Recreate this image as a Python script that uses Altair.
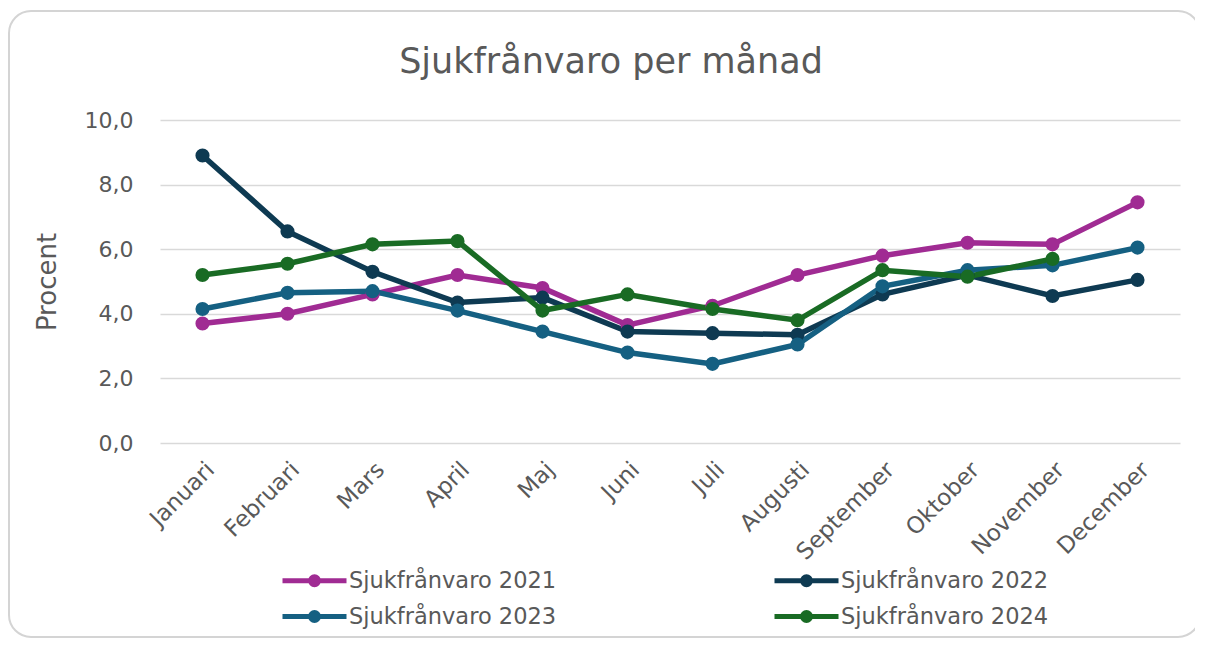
import altair as alt
import pandas as pd

months = ["Januari", "Februari", "Mars", "April", "Maj", "Juni", "Juli",
          "Augusti", "September", "Oktober", "November", "December"]
s2021 = [3.7, 4.0, 4.6, 5.2, 4.8, 3.65, 4.25, 5.2, 5.8, 6.2, 6.15, 7.45]
s2022 = [8.9, 6.55, 5.3, 4.35, 4.5, 3.45, 3.4, 3.35, 4.6, 5.2, 4.55, 5.05]
s2023 = [4.15, 4.65, 4.7, 4.1, 3.45, 2.8, 2.45, 3.05, 4.85, 5.35, 5.5, 6.05]
s2024 = [5.2, 5.55, 6.15, 6.25, 4.1, 4.6, 4.15, 3.8, 5.35, 5.15, 5.7, None]

series_names = ["Sjukfrånvaro 2021", "Sjukfrånvaro 2022",
                "Sjukfrånvaro 2023", "Sjukfrånvaro 2024"]
series_values = [s2021, s2022, s2023, s2024]
colors = ["#A02B93", "#0E3A52", "#156082", "#196B24"]
y_ticks = [0, 2, 4, 6, 8, 10]

rows = []
for name, vals in zip(series_names, series_values):
    for m, v in zip(months, vals):
        if v is not None:
            rows.append({"Månad": m, "Serie": name, "Procent": v})
df = pd.DataFrame(rows)

FONT = "DejaVu Sans"
TXT = "#595959"

legend_path = ("M-3.2,0 L3.2,0 M0.4,0 A0.4,0.4 0 1,1 -0.4,0 "
               "A0.4,0.4 0 1,1 0.4,0 Z")

x_enc = alt.X("Månad:N", sort=months,
              scale=alt.Scale(type="point", padding=0.5),
              axis=alt.Axis(title=None, labelAngle=-45, labelFontSize=23,
                            labelColor=TXT, labelFont=FONT, labelPadding=15,
                            ticks=False, domain=False, grid=False))
y_enc = alt.Y("Procent:Q",
              scale=alt.Scale(domain=[0, 10], nice=False),
              axis=alt.Axis(title="Procent", values=y_ticks,
                            labelExpr="replace(format(datum.value, '.1f'), '.', ',')",
                            labelFontSize=22, labelColor=TXT, labelFont=FONT,
                            labelPadding=27, titleFontSize=26, titleColor=TXT,
                            titleFont=FONT, titleFontWeight="normal",
                            titlePadding=24, ticks=False, domain=False,
                            grid=True, gridColor="#D9D9D9", gridWidth=1.5))
color_enc = alt.Color("Serie:N",
                      scale=alt.Scale(domain=series_names, range=colors),
                      legend=alt.Legend(title=None, orient="none",
                                        direction="horizontal",
                                        legendX=142, legendY=448,
                                        columns=2, columnPadding=207,
                                        rowPadding=7,
                                        symbolType=legend_path,
                                        symbolSize=400,
                                        symbolStrokeWidth=5,
                                        labelFontSize=22.5, labelColor=TXT,
                                        labelFont=FONT, labelOffset=22,
                                        labelLimit=400))

border = alt.Chart(pd.DataFrame({"a": [0]})).mark_rect(
    filled=False, stroke="#D4D4D4", strokeWidth=2, cornerRadius=22
).encode(x=alt.value(-151), x2=alt.value(1040),
         y=alt.value(-109), y2=alt.value(517))

lines = alt.Chart(df).mark_line(
    strokeWidth=5.5,
    point=alt.OverlayMarkDef(filled=True, size=200, opacity=1)
).encode(x=x_enc, y=y_enc, color=color_enc)

chart = alt.layer(border, lines).properties(
    width=1020, height=323,
    padding={"left": 152, "top": 112, "right": 15, "bottom": 195},
    autosize=alt.AutoSizeParams(type="none"),
    title=alt.TitleParams("Sjukfrånvaro per månad", fontSize=35,
                          font=FONT, color=TXT, fontWeight="normal",
                          anchor="middle", dx=-59, offset=-70),
).configure_view(stroke=None)

chart.save("out.html", embed_options={"renderer": "svg", "actions": False})
